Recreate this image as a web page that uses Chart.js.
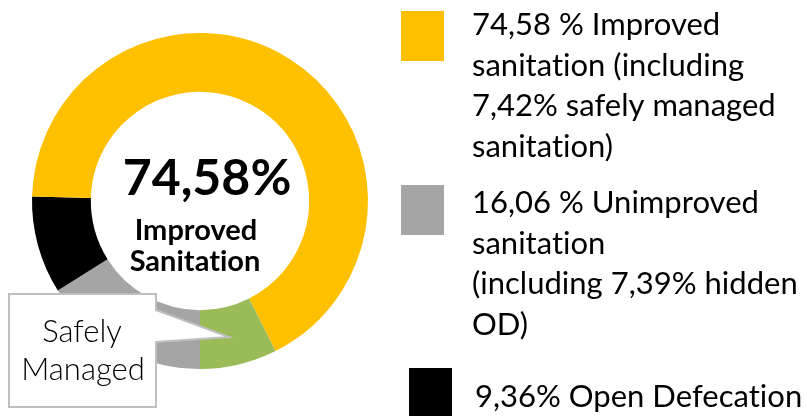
<!DOCTYPE html>
<html>
<head>
<meta charset="utf-8">
<title>Sanitation coverage</title>
<script src="https://cdn.jsdelivr.net/npm/chart.js@4"></script>
<style>
  html, body { margin: 0; padding: 0; background: #fff; }
  #wrap { position: relative; width: 807px; height: 416px; }
</style>
</head>
<body>
<div id="wrap">
  <canvas id="sanitationChart" width="807" height="416"></canvas>
</div>
<script>
// headline figures (%)
const improvedTotal = 74.58;
const safelyManaged = 7.42;
const unimproved = 16.06;
const openDefecation = 9.36;

// ring segments, clockwise from the bottom
const segmentLabels = [
  "Unimproved sanitation",
  "Open Defecation",
  "Improved sanitation",
  "Safely managed sanitation",
];
const segmentValues = [
  unimproved,
  openDefecation,
  +(improvedTotal - safelyManaged).toFixed(2),
  safelyManaged,
];
const segmentColors = ["#A5A5A5", "#000000", "#FFC000", "#9BBB59"];

// legend entries
const legendColors = ["#FFC000", "#A5A5A5", "#000000"];
const legendLines = [
  ["74,58 % Improved", "sanitation (including", "7,42% safely managed", "sanitation)"],
  ["16,06 % Unimproved", "sanitation", "(including 7,39% hidden", "OD)"],
  ["9,36% Open Defecation"],
];

const centerValue = "74,58%";
const centerCaption = ["Improved", "Sanitation"];
const calloutLines = ["Safely", "Managed"];

document.addEventListener("DOMContentLoaded", () => {
  const ctx = document.getElementById("sanitationChart").getContext("2d");
  const FONT = "Lato, 'Open Sans', sans-serif";

  const overlay = {
    id: "overlay",
    afterDraw(chart) {
      const c = chart.ctx;
      const meta = chart.getDatasetMeta(0).data[0];
      const cx = meta.x;
      c.save();
      // a tiny letter spacing keeps "ti" from turning into a ligature
      c.letterSpacing = "0.01px";

      // callout box with its pointer into the green slice
      c.beginPath();
      c.moveTo(9, 294);
      c.lineTo(156, 294);
      c.lineTo(156, 310);
      c.lineTo(229, 337);
      c.lineTo(156, 342);
      c.lineTo(156, 407);
      c.lineTo(9, 407);
      c.closePath();
      c.fillStyle = "#fff";
      c.fill();
      c.strokeStyle = "#BFBFBF";
      c.lineWidth = 2;
      c.stroke();

      c.fillStyle = "#000";
      c.textAlign = "center";
      c.textBaseline = "alphabetic";
      c.font = "300 31px " + FONT;
      c.fillText(calloutLines[0], 82, 342);
      c.fillText(calloutLines[1], 83, 380);

      // label in the hole
      c.font = "bold 50px " + FONT;
      c.fillText(centerValue, cx + 7, 195);
      c.font = "bold 29px " + FONT;
      c.fillText(centerCaption[0], cx - 4, 240);
      c.fillText(centerCaption[1], cx - 5, 271);

      // legend
      c.textAlign = "left";
      c.font = "31px " + FONT;
      const swatches = [[401, 11], [401, 185], [409, 368]];
      const textPos = [[472, 35], [472, 213], [475, 407]];
      legendLines.forEach((lines, i) => {
        c.fillStyle = legendColors[i];
        c.fillRect(swatches[i][0], swatches[i][1], 43, 50);
        c.fillStyle = "#000";
        lines.forEach((line, j) => {
          c.fillText(line, textPos[i][0], textPos[i][1] + j * 40.7);
        });
      });

      c.restore();
    },
  };

  new Chart(ctx, {
    type: "doughnut",
    data: {
      labels: segmentLabels,
      datasets: [
        {
          data: segmentValues,
          backgroundColor: segmentColors,
          borderWidth: 0,
        },
      ],
    },
    options: {
      responsive: false,
      animation: false,
      rotation: 180,
      cutout: "65%",
      layout: {
        padding: { left: 32, right: 439, top: 33, bottom: 47 },
      },
      plugins: {
        legend: { display: false },
        tooltip: { enabled: false },
      },
    },
    plugins: [overlay],
  });
});
</script>
</body>
</html>
